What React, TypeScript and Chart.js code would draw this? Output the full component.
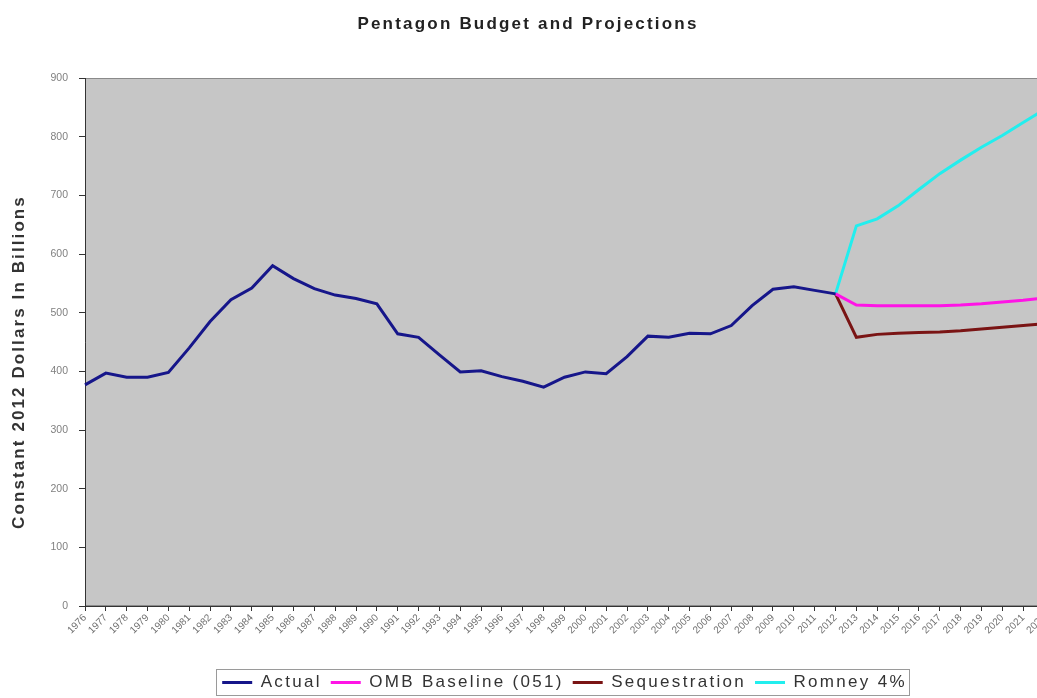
import React, { useEffect, useRef } from 'react';
import { Chart, registerables } from 'chart.js';

Chart.register(...registerables);

const TITLE = 'Pentagon Budget and Projections';
const Y_TITLE = 'Constant 2012 Dollars In Billions';

const years = [
  '1976', '1977', '1978', '1979', '1980', '1981', '1982', '1983', '1984', '1985',
  '1986', '1987', '1988', '1989', '1990', '1991', '1992', '1993', '1994', '1995',
  '1996', '1997', '1998', '1999', '2000', '2001', '2002', '2003', '2004', '2005',
  '2006', '2007', '2008', '2009', '2010', '2011', '2012', '2013', '2014', '2015',
  '2016', '2017', '2018', '2019', '2020', '2021', '2022',
];

const actual = [
  377, 397, 390, 390, 398, 440, 485, 522, 542, 580,
  558, 541, 530, 524, 515, 464, 458, 428, 399, 401,
  391, 383, 373, 390, 399, 396, 425, 460, 458, 465,
  464, 478, 512, 540, 544, 538, 532,
  null, null, null, null, null, null, null, null, null, null,
];

const pre = Array(36).fill(null);
const ombBaseline = [...pre, 532, 513, 512, 512, 512, 512, 513, 515, 518, 521, 525];
const sequestration = [...pre, 532, 458, 463, 465, 466, 467, 469, 472, 475, 478, 481];
const romney = [...pre, 532, 648, 660, 682, 710, 737, 760, 782, 802, 824, 846];

const FONT = '"Liberation Sans", Arial, sans-serif';
const LEGEND_SPACING = '2.3px';

const customPlugin = {
  id: 'customDecor',
  afterInit(chart: any) {
    const lg = chart.legend;
    if (lg && !lg.__patched) {
      lg.__patched = true;
      const ofit = lg.fit.bind(lg);
      lg.fit = function () {
        const ctx = chart.ctx;
        ctx.save();
        ctx.letterSpacing = LEGEND_SPACING;
        ofit();
        ctx.restore();
        this.height = 31;
      };
      const odraw = lg.draw.bind(lg);
      lg.draw = function (...args: any[]) {
        const ctx = chart.ctx;
        ctx.save();
        ctx.letterSpacing = LEGEND_SPACING;
        odraw(...args);
        ctx.restore();
      };
    }
  },
  beforeDraw(chart: any) {
    const { ctx, chartArea } = chart;
    const { left, top, right, bottom } = chartArea;
    ctx.save();
    ctx.fillStyle = '#c6c6c6';
    ctx.fillRect(left, top, right - left, bottom - top);
    ctx.strokeStyle = '#8a8a8a';
    ctx.lineWidth = 1;
    ctx.strokeRect(left + 0.5, top + 0.5, right - left - 1, bottom - top - 1);
    ctx.restore();
  },
  afterDraw(chart: any) {
    const { ctx, chartArea } = chart;
    ctx.save();
    // Title
    ctx.letterSpacing = '2.2px';
    ctx.font = `bold 17px ${FONT}`;
    ctx.fillStyle = '#222';
    ctx.textAlign = 'center';
    ctx.textBaseline = 'middle';
    ctx.fillText(TITLE, 528, 24);
    // Y title
    ctx.letterSpacing = '2.1px';
    ctx.font = `bold 17px ${FONT}`;
    ctx.fillStyle = '#333';
    ctx.translate(19, (chartArea.top + chartArea.bottom) / 2 + 20);
    ctx.rotate(-Math.PI / 2);
    ctx.fillText(Y_TITLE, 0, 0);
    ctx.restore();

    // Legend border
    const lg = chart.legend;
    if (lg && lg.legendHitBoxes && lg.legendHitBoxes.length) {
      const hb = lg.legendHitBoxes;
      let l = Infinity, r = -Infinity, t = Infinity, b = -Infinity;
      hb.forEach((h: any) => {
        l = Math.min(l, h.left);
        r = Math.max(r, h.left + h.width);
        t = Math.min(t, h.top);
        b = Math.max(b, h.top + h.height);
      });
      ctx.save();
      ctx.strokeStyle = '#9a9a9a';
      ctx.lineWidth = 1;
      ctx.strokeRect(Math.round(l - 6) + 0.5, Math.round(t - 5) + 0.5, Math.round(r - l + 8), Math.round(b - t + 9));
      ctx.restore();
    }
  },
};

export default function App() {
  const canvasRef = useRef<HTMLCanvasElement | null>(null);

  useEffect(() => {
    if (!canvasRef.current) return;
    const mk = (label: string, data: (number | null)[], color: string) => ({
      label,
      data,
      borderColor: color,
      backgroundColor: color,
      borderWidth: 3,
      pointRadius: 0,
      pointHoverRadius: 0,
      tension: 0,
      spanGaps: false,
      fill: false,
    });
    const chart = new Chart(canvasRef.current, {
      type: 'line',
      data: {
        labels: years,
        datasets: [
          mk('Actual', actual, '#16168a'),
          mk('OMB Baseline (051)', ombBaseline, '#ff14e6'),
          mk('Sequestration', sequestration, '#7a1414'),
          mk('Romney 4%', romney, '#22eeee'),
        ],
      },
      options: {
        responsive: false,
        animation: false,
        devicePixelRatio: 1,
        layout: { padding: { top: 78, right: 10, bottom: 2, left: 0 } },
        plugins: {
          title: { display: false },
          tooltip: { enabled: false },
          legend: {
            display: true,
            position: 'bottom',
            fullSize: false,
            labels: {
              usePointStyle: true,
              pointStyle: 'line',
              pointStyleWidth: 30,
              padding: 9,
              color: '#333',
              font: { family: FONT, size: 17 },
            },
          },
        },
        scales: {
          x: {
            type: 'category',
            offset: false,
            afterFit: (scale: any) => {
              scale.height = 59;
            },
            grid: {
              display: true,
              drawOnChartArea: false,
              drawTicks: true,
              tickLength: 5,
              tickColor: '#333',
            },
            border: { display: true, color: '#333', width: 1 },
            ticks: {
              autoSkip: false,
              maxRotation: 45,
              minRotation: 45,
              padding: 1,
              color: '#707070',
              font: { family: FONT, size: 10 },
            },
          },
          y: {
            min: 0,
            max: 900,
            afterFit: (scale: any) => {
              scale.width = 85;
            },
            grid: {
              display: true,
              drawOnChartArea: false,
              drawTicks: true,
              tickLength: 6,
              tickColor: '#333',
            },
            border: { display: true, color: '#333', width: 1 },
            ticks: {
              stepSize: 100,
              padding: 11,
              color: '#808080',
              font: { family: FONT, size: 10.5 },
            },
          },
        },
      },
      plugins: [customPlugin],
    } as any);
    return () => chart.destroy();
  }, []);

  return (
    <div
      style={{
        position: 'fixed',
        left: 0,
        top: 0,
        width: 1037,
        height: 698,
        overflow: 'hidden',
        background: '#fff',
      }}
    >
      <canvas ref={canvasRef} width={1054} height={698} style={{ display: 'block', width: 1054, height: 698 }} />
    </div>
  );
}
